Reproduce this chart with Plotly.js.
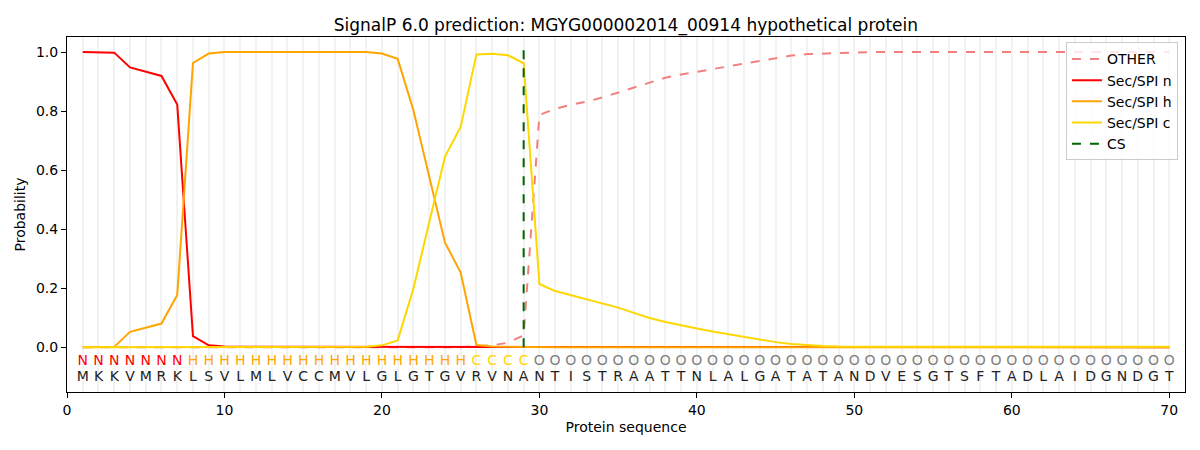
<!DOCTYPE html>
<html>
<head>
<meta charset="utf-8">
<script src="https://cdn.plot.ly/plotly-3.0.1.min.js"></script>
<style>
  html, body { margin: 0; padding: 0; background: #fff; }
  #chart { width: 1200px; height: 450px; }
</style>
</head>
<body>
<div id="chart"></div>
<script>
/* SignalP 6.0 per-residue probabilities */
var residues = 'MKKVMRKLSVLMLVCCMVLGLGTGVRVNANTISTRAATTNLALGATATANDVESGTSFTADLAIDGNDGT'.split('');
var regionLabels = 'NNNNNNNHHHHHHHHHHHHHHHHHHCCCCOOOOOOOOOOOOOOOOOOOOOOOOOOOOOOOOOOOOOOOOO'.split('');
var positions = residues.map(function (r, i) { return i + 1; });

var probOther = [
  0, 0, 0, 0, 0, 0, 0, 0, 0, 0,
  0, 0, 0, 0, 0, 0, 0, 0, 0, 0,
  0, 0, 0, 0, 0, 0.004, 0.006, 0.015, 0.04, 0.787,
  0.808, 0.821, 0.832, 0.846, 0.863, 0.881, 0.898, 0.913, 0.924, 0.933,
  0.942, 0.950, 0.959, 0.968, 0.979, 0.988, 0.993, 0.995, 0.998, 0.999,
  1, 1, 1, 1, 1, 1, 1, 1, 1, 1,
  1, 1, 1, 1, 1, 1, 1, 1, 1, 1
];
var probSecN = [
  1.0, 1.0, 0.998, 0.948, 0.933, 0.919, 0.822, 0.037, 0.006, 0.002,
  0.001, 0.001, 0.001, 0.001, 0.001, 0.001, 0.001, 0.001, 0.001, 0.001,
  0.001, 0.001, 0.001, 0.001, 0.001, 0.001, 0.001, 0.001, 0.001, 0,
  0, 0, 0, 0, 0, 0, 0, 0, 0, 0,
  0, 0, 0, 0, 0, 0, 0, 0, 0, 0,
  0, 0, 0, 0, 0, 0, 0, 0, 0, 0,
  0, 0, 0, 0, 0, 0, 0, 0, 0, 0
];
var probSecH = [
  0, 0, 0.001, 0.052, 0.066, 0.080, 0.177, 0.963, 0.995, 1.0,
  1.0, 1.0, 1.0, 1.0, 1.0, 1.0, 1.0, 1.0, 1.0, 0.995,
  0.977, 0.803, 0.578, 0.355, 0.253, 0.007, 0.002, 0.001, 0.001, 0,
  0, 0, 0, 0, 0, 0, 0, 0, 0, 0,
  0, 0, 0, 0, 0, 0, 0, 0, 0, 0,
  0, 0, 0, 0, 0, 0, 0, 0, 0, 0,
  0, 0, 0, 0, 0, 0, 0, 0, 0, 0
];
var probSecC = [
  0, 0, 0, 0, 0, 0, 0, 0, 0, 0,
  0, 0, 0, 0, 0, 0, 0, 0, 0.001, 0.006,
  0.023, 0.199, 0.425, 0.645, 0.746, 0.992, 0.994, 0.989, 0.962, 0.214,
  0.190, 0.176, 0.164, 0.150, 0.134, 0.116, 0.099, 0.085, 0.073, 0.063,
  0.053, 0.044, 0.035, 0.026, 0.017, 0.011, 0.007, 0.004, 0.002, 0.001,
  0.001, 0.001, 0.001, 0.001, 0.001, 0.001, 0.001, 0.001, 0.001, 0.001,
  0.001, 0.001, 0.001, 0.001, 0.001, 0.001, 0.001, 0.001, 0.001, 0.001
];
var csPosition = 29;
var csSpan = [0, 1.035];

var xTicks = [0, 10, 20, 30, 40, 50, 60, 70];
var yTicks = [0, 0.2, 0.4, 0.6, 0.8, 1.0];

(function () {
  'use strict';

  var FONT = '"DejaVu Sans", Verdana, sans-serif';
  var LABEL_COLORS = { N: '#ff0000', H: '#ffa500', C: '#ffd700', O: '#808080' };

  function probLine(name, y, color, dash) {
    return {
      x: positions, y: y, name: name,
      type: 'scatter', mode: 'lines',
      line: { color: color, width: 2, dash: dash || 'solid' },
      hoverinfo: 'skip',
    };
  }

  var traces = [
    probLine('OTHER', probOther, '#f08080', 'dash'),
    probLine('Sec/SPI n', probSecN, '#ff0000'),
    probLine('Sec/SPI h', probSecH, '#ffa500'),
    probLine('Sec/SPI c', probSecC, '#ffd700'),
    {
      x: [csPosition, csPosition], y: csSpan, name: 'CS',
      type: 'scatter', mode: 'lines',
      line: { color: '#006400', width: 2, dash: 'dash' },
      hoverinfo: 'skip',
    },
    /* region letters (N/H/C/O) */
    {
      x: positions, y: positions.map(function () { return -0.05; }),
      text: regionLabels, type: 'scatter', mode: 'text',
      textfont: {
        family: FONT, size: 14,
        color: regionLabels.map(function (l) { return LABEL_COLORS[l]; }),
      },
      showlegend: false, hoverinfo: 'skip',
    },
    /* amino acid sequence */
    {
      x: positions, y: positions.map(function () { return -0.102; }),
      text: residues, type: 'scatter', mode: 'text',
      textfont: { family: FONT, size: 14, color: '#222' },
      showlegend: false, hoverinfo: 'skip',
    },
  ];

  var layout = {
    width: 1200, height: 450,
    margin: { l: 67, r: 15, t: 37, b: 58 },
    paper_bgcolor: '#fff', plot_bgcolor: '#fff',
    font: { family: FONT, size: 14, color: '#000' },
    title: {
      text: 'SignalP 6.0 prediction: MGYG000002014_00914 hypothetical protein',
      font: { size: 17, color: '#000' },
      x: 0.5216, xanchor: 'center', yref: 'container', y: 0.944, yanchor: 'middle',
    },
    xaxis: {
      range: [0, 71],
      tickvals: xTicks,
      ticks: 'outside', ticklen: 5, tickcolor: '#000',
      showgrid: true, gridcolor: '#f2f2f2', gridwidth: 2,
      minor: { dtick: 1, tick0: 0, showgrid: true, gridcolor: '#f2f2f2', gridwidth: 2, ticks: '' },
      showline: true, linecolor: '#000', linewidth: 1, mirror: true,
      zeroline: false,
      title: { text: 'Protein sequence', font: { size: 14 }, standoff: 5 },
    },
    yaxis: {
      range: [-0.152, 1.051],
      tickvals: yTicks, tickformat: '.1f',
      ticks: 'outside', ticklen: 5, tickcolor: '#000',
      showgrid: false, zeroline: false,
      showline: true, linecolor: '#000', linewidth: 1, mirror: true,
      title: { text: 'Probability', font: { size: 14 }, standoff: 7 },
    },
    legend: {
      x: 0.9937, xanchor: 'right', y: 0.985, yanchor: 'top',
      bgcolor: 'rgba(255,255,255,0.8)', bordercolor: '#cccccc', borderwidth: 1,
      font: { size: 14 }, itemwidth: 30,
    },
    showlegend: true,
  };

  Plotly.newPlot('chart', traces, layout, { displayModeBar: false, staticPlot: true });
})();
</script>
</body>
</html>
